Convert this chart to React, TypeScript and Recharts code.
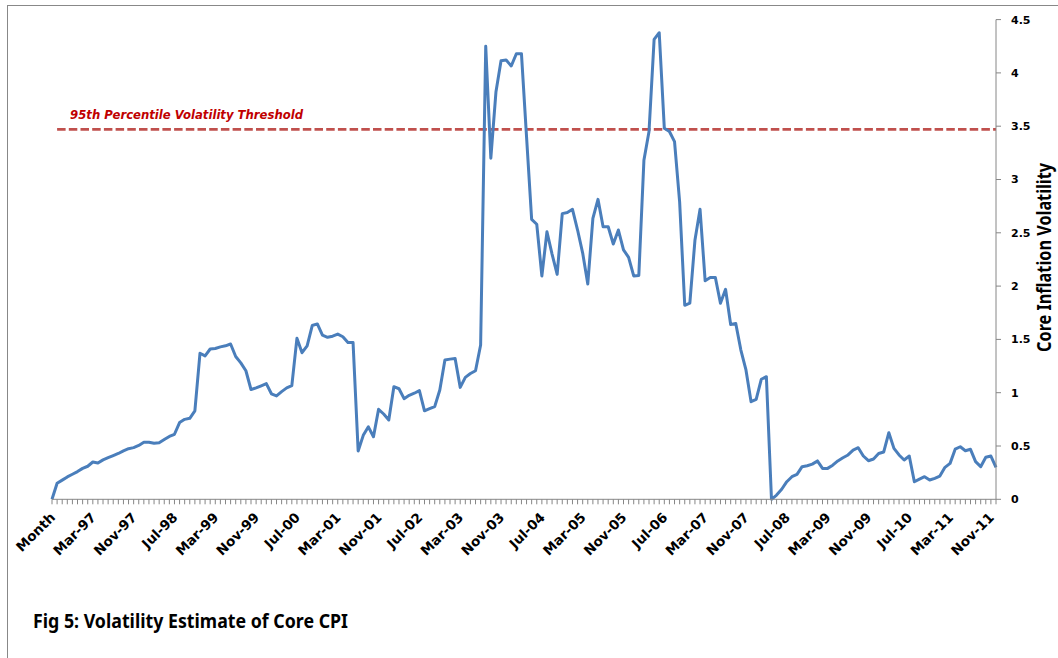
import { LineChart, Line, XAxis, YAxis, ReferenceLine, Label } from 'recharts'

// monthly volatility estimate, first category is the "Month" header cell
const VOLATILITY = [
    0, 0.15, 0.18, 0.21, 0.235, 0.26, 0.29, 0.31, 0.35, 0.34,
    0.37, 0.39, 0.41, 0.43, 0.455, 0.475, 0.485, 0.505, 0.535, 0.535,
    0.525, 0.53, 0.56, 0.59, 0.61, 0.72, 0.75, 0.76, 0.83, 1.37,
    1.345, 1.41, 1.415, 1.43, 1.44, 1.457, 1.34, 1.28, 1.206, 1.03,
    1.045, 1.065, 1.085, 0.99, 0.97, 1.01, 1.045, 1.066, 1.51, 1.375,
    1.44, 1.63, 1.645, 1.54, 1.52, 1.53, 1.55, 1.525, 1.47, 1.47,
    0.453, 0.6, 0.68, 0.587, 0.844, 0.8, 0.744, 1.056, 1.037, 0.944,
    0.975, 0.995, 1.019, 0.83, 0.85, 0.869, 1.025, 1.307, 1.315, 1.32,
    1.05, 1.144, 1.18, 1.206, 1.447, 4.25, 3.2, 3.82, 4.115, 4.12,
    4.065, 4.18, 4.18, 3.4, 2.626, 2.58, 2.095, 2.51, 2.3, 2.11,
    2.68, 2.69, 2.72, 2.526, 2.31, 2.02, 2.635, 2.814, 2.557, 2.557,
    2.395, 2.526, 2.34, 2.27, 2.095, 2.1, 3.18, 3.45, 4.315, 4.377,
    3.48, 3.45, 3.355, 2.79, 1.82, 1.84, 2.43, 2.72, 2.05, 2.08,
    2.08, 1.84, 1.97, 1.64, 1.65, 1.4, 1.213, 0.916, 0.938, 1.126,
    1.15, 0, 0.04, 0.094, 0.165, 0.212, 0.234, 0.306, 0.315, 0.33,
    0.36, 0.29, 0.29, 0.32, 0.36, 0.39, 0.416, 0.462, 0.484, 0.406,
    0.362, 0.378, 0.43, 0.444, 0.625, 0.478, 0.416, 0.369, 0.406, 0.165,
    0.19, 0.212, 0.181, 0.197, 0.218, 0.3, 0.337, 0.47, 0.493, 0.456,
    0.469, 0.353, 0.306, 0.394, 0.406, 0.3,
]

const TICK_LABELS = [
    'Month', 'Mar-97', 'Nov-97', 'Jul-98', 'Mar-99', 'Nov-99', 'Jul-00', 'Mar-01',
    'Nov-01', 'Jul-02', 'Mar-03', 'Nov-03', 'Jul-04', 'Mar-05', 'Nov-05', 'Jul-06',
    'Mar-07', 'Nov-07', 'Jul-08', 'Mar-09', 'Nov-09', 'Jul-10', 'Mar-11', 'Nov-11',
]

const Y_TICKS = [0, 0.5, 1, 1.5, 2, 2.5, 3, 3.5, 4, 4.5]
const THRESHOLD = 3.47

const MONTH_NAMES = ['Jan', 'Feb', 'Mar', 'Apr', 'May', 'Jun', 'Jul', 'Aug', 'Sep', 'Oct', 'Nov', 'Dec']
const FIRST_YEAR = 1996
const FIRST_MONTH = 7 // Aug-96 is the first real month

const categories = VOLATILITY.map((_, i) => {
    if (i === 0) return 'Month'
    const m = FIRST_MONTH + i - 1
    const yy = (FIRST_YEAR + Math.floor(m / 12)) % 100
    return `${MONTH_NAMES[m % 12]}-${String(yy).padStart(2, '0')}`
})

const data = categories.map((month, i) => ({ month, volatility: VOLATILITY[i] }))

const AXIS_GREY = '#868686'

function MonthTick({ x, y, payload }: any) {
    if (!TICK_LABELS.includes(payload.value)) return <g />
    const ax = x + 4
    const ay = y + 12
    return (
        <text
            x={ax}
            y={ay}
            transform={`rotate(-45 ${ax} ${ay})`}
            textAnchor="end"
            fontFamily="DejaVu Sans"
            fontWeight="bold"
            fontSize={13.5}
            fill="#000"
        >
            {payload.value}
        </text>
    )
}

function AxisTitle({ viewBox }: any) {
    const cx = viewBox.x + 55
    const cy = viewBox.y + viewBox.height / 2 - 2
    return (
        <text
            x={cx}
            y={cy}
            transform={`rotate(-90 ${cx} ${cy})`}
            textAnchor="middle"
            fontFamily="Noto Sans"
            fontWeight="bold"
            fontSize={19}
            textLength={189}
            lengthAdjust="spacingAndGlyphs"
            fill="#000"
        >
            Core Inflation Volatility
        </text>
    )
}

function ThresholdLabel({ viewBox }: any) {
    return (
        <text
            x={viewBox.x + 13}
            y={viewBox.y - 10.5}
            fontFamily="DejaVu Sans"
            fontWeight="bold"
            fontStyle="italic"
            fontSize={12}
            textLength={233}
            lengthAdjust="spacingAndGlyphs"
            fill="#c00000"
        >
            95th Percentile Volatility Threshold
        </text>
    )
}

export default function App(): JSX.Element {
    return (
        <div style={{ position: 'absolute', left: 0, top: 0, width: 1058, height: 658, overflow: 'hidden', background: '#fff' }}>
            <div
                style={{
                    position: 'absolute',
                    left: 7,
                    top: 5,
                    width: 1051,
                    height: 653,
                    borderTop: '1px solid #888',
                    borderLeft: '1px solid #888',
                }}
            >
                <LineChart
                    width={1050}
                    height={652}
                    data={data}
                    margin={{ top: 13.6, right: 22, bottom: 98.7, left: 44 }}
                >
                    <XAxis
                        dataKey="month"
                        interval={0}
                        height={60}
                        tickSize={5}
                        tickMargin={2}
                        axisLine={{ stroke: AXIS_GREY }}
                        tickLine={{ stroke: AXIS_GREY }}
                        tick={<MonthTick />}
                    />
                    <YAxis
                        orientation="right"
                        domain={[0, 4.5]}
                        ticks={Y_TICKS}
                        interval={0}
                        width={40}
                        tickSize={5}
                        tickMargin={10}
                        axisLine={{ stroke: AXIS_GREY }}
                        tickLine={{ stroke: AXIS_GREY }}
                        tick={{ fill: '#000', fontSize: 11, fontWeight: 'bold', fontFamily: 'DejaVu Sans' }}
                    >
                        <Label content={<AxisTitle />} />
                    </YAxis>
                    <ReferenceLine
                        segment={[
                            { x: categories[1], y: THRESHOLD },
                            { x: categories[categories.length - 1], y: THRESHOLD },
                        ]}
                        stroke="#c0504d"
                        strokeWidth={2.7}
                        strokeDasharray="8.5 3.2"
                    >
                        <Label content={<ThresholdLabel />} />
                    </ReferenceLine>
                    <Line
                        type="linear"
                        dataKey="volatility"
                        stroke="#4a7ebb"
                        strokeWidth={3}
                        strokeLinejoin="round"
                        dot={false}
                        activeDot={false}
                        isAnimationActive={false}
                    />
                </LineChart>
            </div>
            <svg style={{ position: 'absolute', left: 0, top: 0 }} width={1058} height={658}>
                <text
                    x={33}
                    y={628}
                    fontFamily="Noto Sans"
                    fontWeight="bold"
                    fontSize={19}
                    textLength={315}
                    lengthAdjust="spacingAndGlyphs"
                    fill="#000"
                >
                    Fig 5: Volatility Estimate of Core CPI
                </text>
            </svg>
        </div>
    )
}
